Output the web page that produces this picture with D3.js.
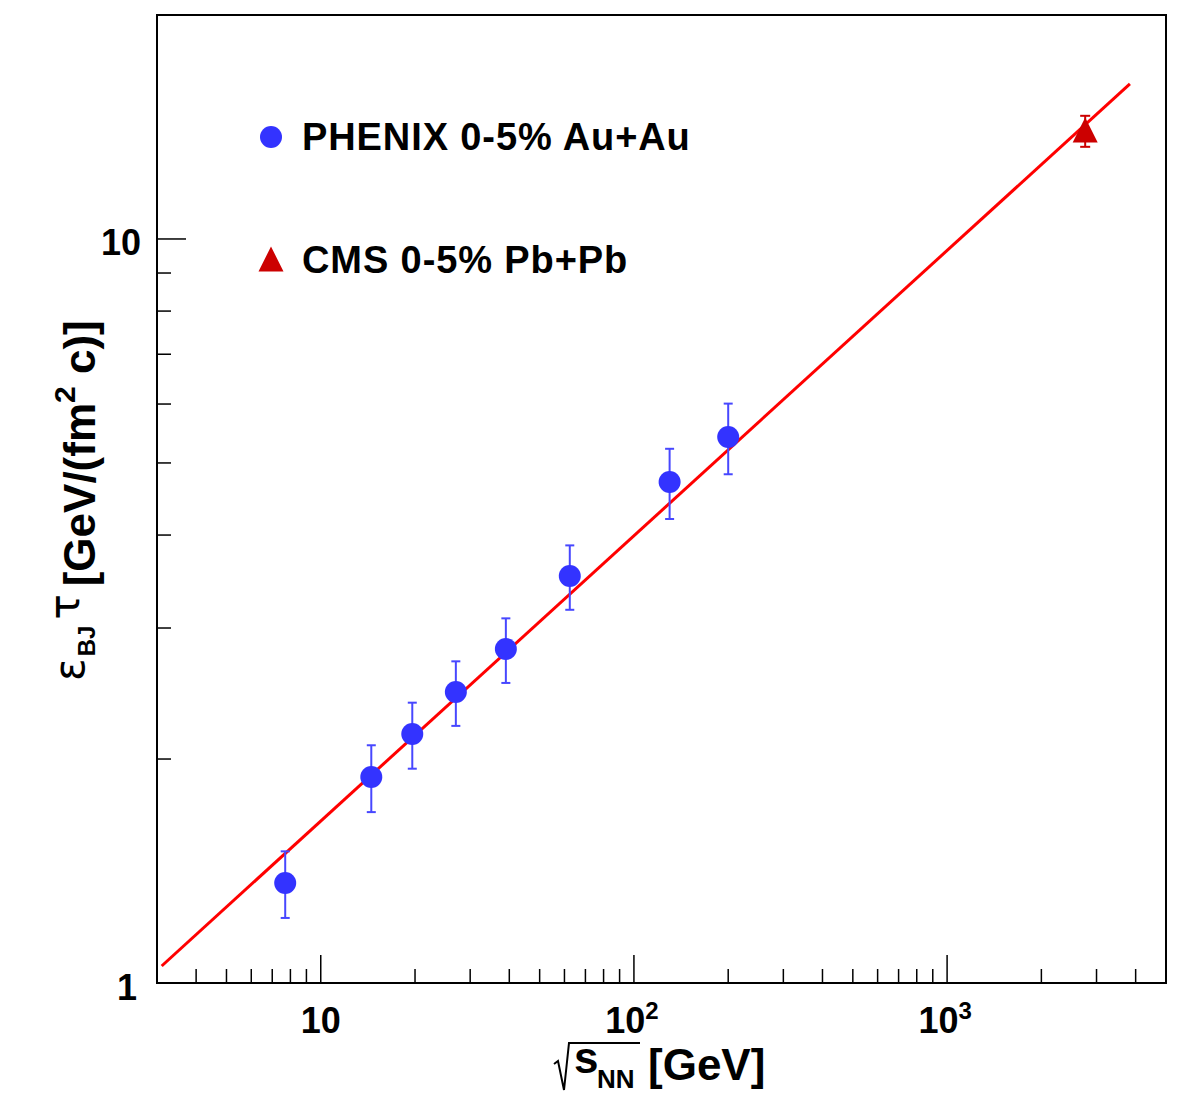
<!DOCTYPE html>
<html>
<head>
<meta charset="utf-8">
<script src="https://cdn.jsdelivr.net/npm/d3@7"></script>
<style>
  html, body { margin: 0; padding: 0; background: #fff; }
  svg { display: block; }
  text { font-family: "Liberation Sans", Arial, Helvetica, sans-serif; font-weight: bold; fill: #000; }
  tspan.greek { font-family: "DejaVu Sans", sans-serif; font-weight: normal; }
</style>
</head>
<body>
<svg id="chart" width="1178" height="1099"></svg>
<script>
// ---- data ----
const phenixEnergy = [7.7, 14.5, 19.6, 27, 39, 62.4, 130, 200];
const phenixValue  = [1.363, 1.892, 2.161, 2.461, 2.811, 3.524, 4.714, 5.418];
const phenixErr    = [0.14, 0.195, 0.22, 0.245, 0.28, 0.35, 0.51, 0.59];
const cmsEnergy = [2760];
const cmsValue  = [13.97];
const cmsErr    = [0.67];
const fitEnergy = [3.105, 3835];
const fitValue  = [1.054, 16.16];
const xMajorTicks = [10, 100, 1000];
const xMinorTicks = [4,5,6,7,8,9,20,30,40,50,60,70,80,90,200,300,400,500,600,700,800,900,2000,3000,4000];
const yMajorTicks = [1, 10];
const yMinorTicks = [2,3,4,5,6,7,8,9];
const legendLabels = ["PHENIX 0-5% Au+Au", "CMS 0-5% Pb+Pb"];

// ---- layout ----
const L = 157, R = 1166, T = 15, B = 983;
const svg = d3.select("#chart");
const x = d3.scaleLog().domain([3, 5000]).range([L, R]);
const y = d3.scaleLog().domain([1, 20]).range([B, T]);

const blue = "#3333ff", blueErr = "#4747ff", red = "#ff0000", darkRed = "#cc0000";

// frame
svg.append("rect").attr("x", L).attr("y", T).attr("width", R - L).attr("height", B - T)
  .attr("fill", "none").attr("stroke", "#000").attr("stroke-width", 2);

// x ticks (inside, bottom)
svg.append("g").selectAll("line").data(xMajorTicks).join("line")
  .attr("x1", d => x(d)).attr("x2", d => x(d)).attr("y1", B).attr("y2", B - 28)
  .attr("stroke", "#000").attr("stroke-width", 1.5);
svg.append("g").selectAll("line").data(xMinorTicks).join("line")
  .attr("x1", d => x(d)).attr("x2", d => x(d)).attr("y1", B).attr("y2", B - 14)
  .attr("stroke", "#000").attr("stroke-width", 1.5);
// y ticks (inside, left)
svg.append("g").selectAll("line").data(yMajorTicks).join("line")
  .attr("x1", L).attr("x2", L + 29).attr("y1", d => y(d)).attr("y2", d => y(d))
  .attr("stroke", "#000").attr("stroke-width", 1.5);
svg.append("g").selectAll("line").data(yMinorTicks).join("line")
  .attr("x1", L).attr("x2", L + 14).attr("y1", d => y(d)).attr("y2", d => y(d))
  .attr("stroke", "#000").attr("stroke-width", 1.5);

// x tick labels
xMajorTicks.forEach(d => {
  const exp = Math.round(Math.log10(d));
  const t = svg.append("text").attr("x", x(d) + (exp === 1 ? 0 : -2)).attr("y", 1033)
    .attr("text-anchor", "middle").attr("font-size", 36);
  t.append("tspan").text("10");
  if (exp > 1) t.append("tspan").attr("font-size", 24).attr("dy", -14).text(exp);
});
// y tick labels
yMajorTicks.forEach(d => {
  svg.append("text").attr("x", d === 1 ? 137 : 141).attr("y", y(d) + (d === 1 ? 17 : 16))
    .attr("text-anchor", "end").attr("font-size", 36).text(d);
});

// fit line
const line = d3.line().x(d => x(d[0])).y(d => y(d[1]));
svg.append("path").datum(fitEnergy.map((e, i) => [e, fitValue[i]]))
  .attr("d", line).attr("fill", "none").attr("stroke", red).attr("stroke-width", 3);

// PHENIX error bars
const ph = phenixEnergy.map((e, i) => ({e, v: phenixValue[i], err: phenixErr[i]}));
const gErr = svg.append("g").attr("stroke", blueErr).attr("stroke-width", 2);
ph.forEach(d => {
  const cx = x(d.e);
  gErr.append("line").attr("x1", cx).attr("x2", cx).attr("y1", y(d.v + d.err)).attr("y2", y(d.v - d.err));
  gErr.append("line").attr("x1", cx - 4.5).attr("x2", cx + 4.5).attr("y1", y(d.v + d.err)).attr("y2", y(d.v + d.err));
  gErr.append("line").attr("x1", cx - 4.5).attr("x2", cx + 4.5).attr("y1", y(d.v - d.err)).attr("y2", y(d.v - d.err));
});
svg.append("g").selectAll("circle").data(ph).join("circle")
  .attr("cx", d => x(d.e)).attr("cy", d => y(d.v)).attr("r", 11).attr("fill", blue);

// triangle marker (equal width and height, 25px)
const triPath = "M0,-13.5 L12.5,11.5 L-12.5,11.5 Z";

// CMS
const cms = cmsEnergy.map((e, i) => ({e, v: cmsValue[i], err: cmsErr[i]}));
const gErr2 = svg.append("g").attr("stroke", darkRed).attr("stroke-width", 2);
cms.forEach(d => {
  const cx = x(d.e);
  gErr2.append("line").attr("x1", cx).attr("x2", cx).attr("y1", y(d.v + d.err)).attr("y2", y(d.v - d.err));
  gErr2.append("line").attr("x1", cx - 5).attr("x2", cx + 5).attr("y1", y(d.v + d.err)).attr("y2", y(d.v + d.err));
  gErr2.append("line").attr("x1", cx - 5).attr("x2", cx + 5).attr("y1", y(d.v - d.err)).attr("y2", y(d.v - d.err));
});
svg.append("g").selectAll("path").data(cms).join("path")
  .attr("transform", d => `translate(${x(d.e)},${y(d.v)})`).attr("d", triPath).attr("fill", darkRed);

// legend
svg.append("circle").attr("cx", 271).attr("cy", 137).attr("r", 11).attr("fill", blue);
svg.append("path").attr("transform", "translate(271,260)").attr("d", triPath).attr("fill", darkRed);
svg.append("text").attr("x", 302).attr("y", 150).attr("font-size", 38).attr("letter-spacing", 0.9).text(legendLabels[0]);
svg.append("text").attr("x", 302).attr("y", 273).attr("font-size", 38).attr("letter-spacing", 0.9).text(legendLabels[1]);

// x title: sqrt(s_NN) [GeV]
svg.append("path").attr("d", "M554,1064 L558,1061 L564,1090 L569,1043 L640,1043")
  .attr("fill", "none").attr("stroke", "#000").attr("stroke-width", 2);
svg.append("text").attr("x", 574).attr("y", 1073).attr("font-size", 44).text("s");
svg.append("text").attr("x", 597).attr("y", 1088).attr("font-size", 26).text("NN");
svg.append("text").attr("x", 648).attr("y", 1080).attr("font-size", 44).text("[GeV]");

// y title
const yt = svg.append("text").attr("transform", "translate(95,681) rotate(-90)").attr("font-size", 44);
yt.append("tspan").attr("class", "greek").attr("font-size", 42).attr("dy", -11).text("ε");
yt.append("tspan").attr("font-size", 24).attr("dy", 11).attr("dx", 2).text("BJ");
yt.append("tspan").attr("class", "greek").attr("font-size", 42).attr("dy", -16).attr("dx", 6).text("τ");
yt.append("tspan").attr("dy", 16).attr("dx", 8).text("[GeV/(fm");
yt.append("tspan").attr("font-size", 30).attr("dy", -20).text("2");
yt.append("tspan").attr("dy", 20).text(" c)]");
</script>
</body>
</html>
